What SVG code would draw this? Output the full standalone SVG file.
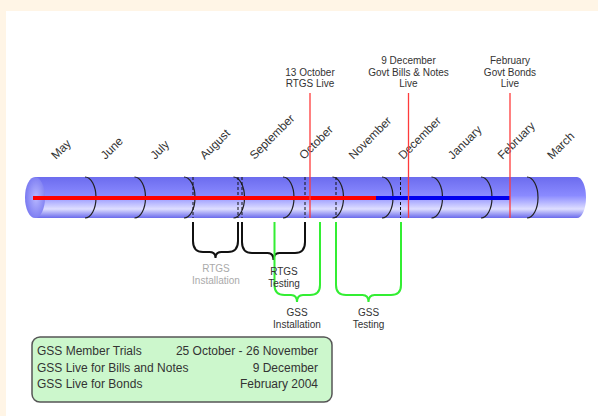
<svg xmlns="http://www.w3.org/2000/svg" width="598" height="416" viewBox="0 0 598 416">
<defs>
<linearGradient id="tube" x1="0" y1="0" x2="0" y2="1">
<stop offset="0" stop-color="#6c6cee"/>
<stop offset="0.45" stop-color="#8a8aff"/>
<stop offset="0.78" stop-color="#dedeff"/>
<stop offset="1" stop-color="#6a6aec"/>
</linearGradient>
<radialGradient id="cap" cx="0.55" cy="0.5" r="0.6">
<stop offset="0" stop-color="#b8b8ff"/>
<stop offset="1" stop-color="#7474f0"/>
</radialGradient>
<style>
.t{font-family:"Liberation Sans",Arial,sans-serif;fill:#333;}
.m{font-size:11.8px;}
.s{font-size:10px;text-anchor:middle;}
.b{font-size:12px;}
.arc{fill:none;stroke:#222;stroke-width:1.2;}
.dash{stroke:#111;stroke-width:1;stroke-dasharray:3,2;}
.red{stroke:#ff3b3b;stroke-width:1.3;}
.braceK{fill:none;stroke:#111;stroke-width:2;}
.braceG{fill:none;stroke:#33ee33;stroke-width:2;}
</style>
</defs>
<rect width="598" height="416" fill="#fff5e6"/>
<rect x="6" y="11" width="592" height="405" fill="#ffffff"/>

<g id="tube-body">
<path d="M35,177 H577 A9,20.5 0 0 1 577,218 H35 Z" fill="url(#tube)"/>
<ellipse cx="35" cy="197.5" rx="10" ry="20.5" fill="url(#cap)"/>
</g>

<g id="months">
<text class="t m" transform="translate(56,160) rotate(-45)">May</text>
<text class="t m" transform="translate(105.6,160) rotate(-45)">June</text>
<text class="t m" transform="translate(155.2,160) rotate(-45)">July</text>
<text class="t m" transform="translate(204.8,160) rotate(-45)">August</text>
<text class="t m" transform="translate(254.4,160) rotate(-45)">September</text>
<text class="t m" transform="translate(304,160) rotate(-45)">October</text>
<text class="t m" transform="translate(353.6,160) rotate(-45)">November</text>
<text class="t m" transform="translate(403.2,160) rotate(-45)">December</text>
<text class="t m" transform="translate(452.8,160) rotate(-45)">January</text>
<text class="t m" transform="translate(502.4,160) rotate(-45)">February</text>
<text class="t m" transform="translate(552,160) rotate(-45)">March</text>
</g>

<g id="connectors">
<g id="month-dividers">
<path class="arc" d="M85,177 A11,20.5 0 0 1 85,218"/>
<path class="arc" d="M134.5,177 A11,20.5 0 0 1 134.5,218"/>
<path class="arc" d="M184,177 A11,20.5 0 0 1 184,218"/>
<path class="arc" d="M233.5,177 A11,20.5 0 0 1 233.5,218"/>
<path class="arc" d="M283,177 A11,20.5 0 0 1 283,218"/>
<path class="arc" d="M332.5,177 A11,20.5 0 0 1 332.5,218"/>
<path class="arc" d="M382,177 A11,20.5 0 0 1 382,218"/>
<path class="arc" d="M431.5,177 A11,20.5 0 0 1 431.5,218"/>
<path class="arc" d="M481,177 A11,20.5 0 0 1 481,218"/>
<path class="arc" d="M527,177 A11,20.5 0 0 1 527,218"/>
</g>
<g id="dashes">
<line class="dash" x1="193" y1="177" x2="193" y2="218"/>
<line class="dash" x1="238" y1="177" x2="238" y2="218"/>
<line class="dash" x1="242" y1="177" x2="242" y2="218"/>
<line class="dash" x1="305" y1="177" x2="305" y2="218"/>
<line class="dash" x1="336" y1="177" x2="336" y2="218"/>
<line class="dash" x1="400.5" y1="177" x2="400.5" y2="218"/>
</g>
<g id="progress">
<line x1="33" y1="198" x2="376" y2="198" stroke="#ff0000" stroke-width="4"/>
<line x1="376" y1="198" x2="510" y2="198" stroke="#0000ee" stroke-width="4"/>
</g>
<g id="milestones">
<line class="red" x1="310" y1="93" x2="310" y2="218"/>
<line class="red" x1="408.5" y1="93" x2="408.5" y2="218"/>
<line class="red" x1="510" y1="93" x2="510" y2="218"/>
</g>
<g id="braces">
<path class="braceK" d="M193,222 V241 Q193,252 203,252 H209.5 Q215.5,252 215.5,258 Q215.5,252 221.5,252 H228 Q238,252 238,241 V222"/>
<path class="braceK" d="M242,222 V242 Q242,253 252,253 H267.5 Q273.5,253 273.5,260 Q273.5,253 279.5,253 H295 Q305,253 305,242 V222"/>
<path class="braceG" d="M274.5,222 V285 Q274.5,295 284.5,295 H291 Q297,295 297,302 Q297,295 303,295 H310 Q320,295 320,285 V222"/>
<path class="braceG" d="M336,222 V285 Q336,295 346,295 H362.5 Q368.5,295 368.5,302 Q368.5,295 374.5,295 H391 Q401,295 401,285 V222"/>
</g>
</g>

<g id="label-rtgs-live">
<text class="t s" x="310" y="75.5">13 October</text>
<text class="t s" x="310" y="87">RTGS Live</text>
</g>
<g id="label-bills-live">
<text class="t s" x="408.5" y="64">9 December</text>
<text class="t s" x="408.5" y="75.5">Govt Bills &amp; Notes</text>
<text class="t s" x="408.5" y="87">Live</text>
</g>
<g id="label-bonds-live">
<text class="t s" x="510" y="64">February</text>
<text class="t s" x="510" y="75.5">Govt Bonds</text>
<text class="t s" x="510" y="87">Live</text>
</g>

<g id="label-rtgs-installation">
<text class="t s" x="216" y="272" style="fill:#aaaaaa">RTGS</text>
<text class="t s" x="216" y="284" style="fill:#aaaaaa">Installation</text>
</g>
<g id="label-rtgs-testing">
<text class="t s" x="284" y="275">RTGS</text>
<text class="t s" x="284" y="287">Testing</text>
</g>
<g id="label-gss-installation">
<text class="t s" x="297" y="315.5">GSS</text>
<text class="t s" x="297" y="327.5">Installation</text>
</g>
<g id="label-gss-testing">
<text class="t s" x="368.5" y="315.5">GSS</text>
<text class="t s" x="368.5" y="327.5">Testing</text>
</g>

<g id="summary-box">
<rect x="32" y="337" width="300" height="65" rx="8" ry="8" fill="#ccf7cc" stroke="#555" stroke-width="1.5"/>
<text class="t b" x="37" y="355">GSS Member Trials</text>
<text class="t b" x="37" y="371.5">GSS Live for Bills and Notes</text>
<text class="t b" x="37" y="388">GSS Live for Bonds</text>
<text class="t b" x="318" y="355" text-anchor="end">25 October - 26 November</text>
<text class="t b" x="318" y="371.5" text-anchor="end">9 December</text>
<text class="t b" x="318" y="388" text-anchor="end">February 2004</text>
</g>
</svg>
